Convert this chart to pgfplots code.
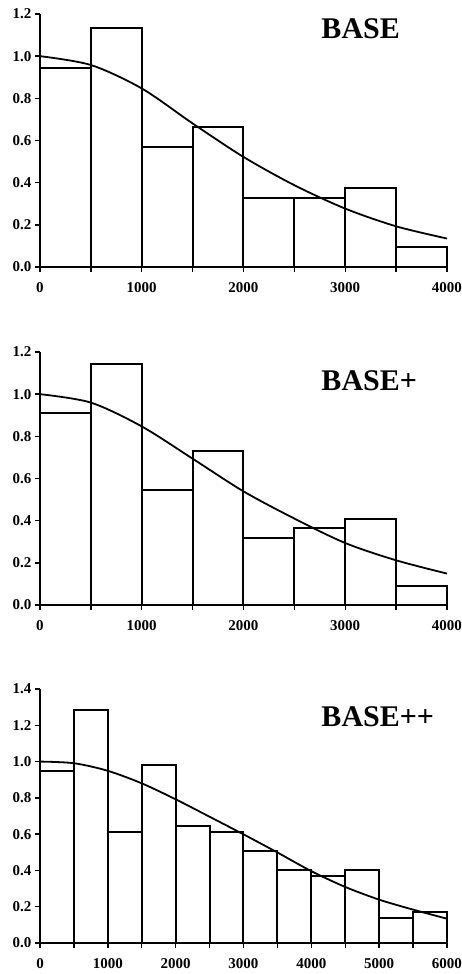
\documentclass[border=0pt]{standalone}
\usepackage{fontspec}
\setmainfont{Liberation Serif}
\usepackage{pgfplots}
\pgfplotsset{compat=1.18}

\pgfplotsset{
  histo/.style={
    scale only axis,
    width=407bp,
    axis x line=bottom,
    axis y line=left,
    axis line style={-, line width=1.4bp},
    tick align=outside,
    major tick length=5bp,
    minor tick length=5bp,
    every tick/.style={black, line width=1.4bp},
    tick label style={font=\fontsize{15bp}{15bp}\selectfont\bfseries},
    xticklabel style={yshift=-7bp},
    /pgf/number format/assume math mode=true,
    /pgf/number format/1000 sep={},
    yticklabel style={/pgf/number format/.cd, fixed, fixed zerofill, precision=1},
    xmin=0, ymin=0,
    clip=false,
  },
  bars/.style={ybar interval, fill=white, draw=black, line width=2bp},
  fit/.style={smooth, black, line width=1.8bp, mark=none},
}

\begin{document}
\begin{tikzpicture}
\useasboundingbox (-40bp,267bp) rectangle (422bp,-707bp);

% BASE
\begin{axis}[histo, at={(0,0)}, anchor=origin, height=253bp,
  xmax=4000, ymax=1.2, xtick={0,1000,...,4000}, minor xtick={500,1500,...,3500},
  ytick={0,0.2,...,1.2}]
\addplot[bars] coordinates {
  (0,0.942) (500,1.133) (1000,0.567) (1500,0.662) (2000,0.329)
  (2500,0.329) (3000,0.375) (3500,0.093) (4000,0.093)};
\addplot[fit] coordinates {
  (0,1.0) (500,0.958) (1000,0.847) (1500,0.681) (2000,0.522)
  (2500,0.388) (3000,0.277) (3500,0.193) (4000,0.135)};
\node[anchor=west, font=\fontsize{30bp}{30bp}\selectfont\bfseries]
  at (rel axis cs:0.683,0.941) {BASE};
\end{axis}

% BASE+
\begin{axis}[histo, at={(0,-338bp)}, anchor=origin, height=253bp,
  xmax=4000, ymax=1.2, xtick={0,1000,...,4000}, minor xtick={500,1500,...,3500},
  ytick={0,0.2,...,1.2}]
\addplot[bars] coordinates {
  (0,0.912) (500,1.145) (1000,0.547) (1500,0.732) (2000,0.319)
  (2500,0.367) (3000,0.410) (3500,0.092) (4000,0.092)};
\addplot[fit] coordinates {
  (0,1.0) (500,0.96) (1000,0.847) (1500,0.694) (2000,0.539)
  (2500,0.410) (3000,0.294) (3500,0.212) (4000,0.149)};
\node[anchor=west, font=\fontsize{30bp}{30bp}\selectfont\bfseries]
  at (rel axis cs:0.683,0.885) {BASE+};
\end{axis}

% BASE++
\begin{axis}[histo, at={(0,-676bp)}, anchor=origin, height=254bp,
  xmax=6000, ymax=1.4, xtick={0,1000,...,6000}, minor xtick={500,1500,...,5500},
  ytick={0,0.2,...,1.4}]
\addplot[bars] coordinates {
  (0,0.947) (500,1.282) (1000,0.610) (1500,0.980) (2000,0.643)
  (2500,0.610) (3000,0.508) (3500,0.405) (4000,0.372) (4500,0.405)
  (5000,0.138) (5500,0.171) (6000,0.171)};
\addplot[fit] coordinates {
  (0,1.0) (500,0.991) (1000,0.949) (1500,0.880) (2000,0.792)
  (2500,0.696) (3000,0.599) (3500,0.499) (4000,0.396) (4500,0.309)
  (5000,0.239) (5500,0.184) (6000,0.134)};
\node[anchor=west, font=\fontsize{30bp}{30bp}\selectfont\bfseries]
  at (rel axis cs:0.683,0.890) {BASE++};
\end{axis}
\end{tikzpicture}
\end{document}
